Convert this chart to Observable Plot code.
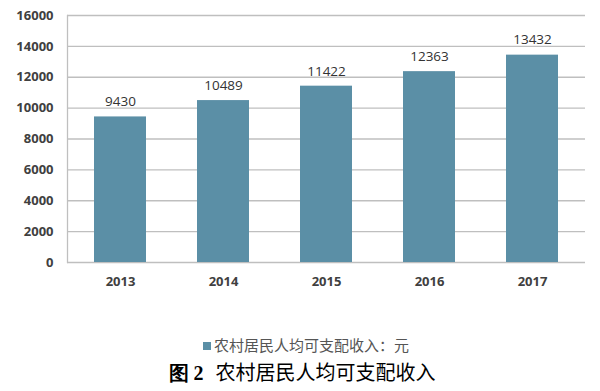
<!DOCTYPE html>
<html><head><meta charset="utf-8">
<script src="https://cdn.jsdelivr.net/npm/d3@7"></script>
<script src="https://cdn.jsdelivr.net/npm/@observablehq/plot@0.6"></script>
<style>
body{margin:0;background:#fff;width:600px;font-family:"Open Sans","Noto Sans CJK SC",sans-serif;}
#legend{height:24px;margin-top:33px;text-align:center;font-size:15px;color:#555;line-height:24px;font-family:"Noto Sans CJK SC",sans-serif;padding-left:12px}
#legend span.sw{display:inline-block;width:8px;height:8px;background:#5b8fa6;margin-right:3px;vertical-align:1px}
#caption{height:30px;text-align:center;font-size:20px;line-height:30px;color:#000;font-family:"Noto Sans CJK SC",sans-serif;padding-left:4px}
#caption b{font-family:"Liberation Serif",serif;font-weight:bold;margin-right:12px}
</style></head><body>
<div id="chart"></div>
<div id="legend"><span class="sw"></span>农村居民人均可支配收入：元</div>
<div id="caption"><b>图 2</b>农村居民人均可支配收入</div>
<script>
const years = ["2013","2014","2015","2016","2017"];
const income = [9430,10489,11422,12363,13432];
const yTicks = [0,2000,4000,6000,8000,10000,12000,14000,16000];
const data = years.map((y,i)=>({year:y, value:income[i]}));
const chart = Plot.plot({
  width:600, height:300,
  marginTop:15, marginBottom:38, marginLeft:67, marginRight:15,
  style:{fontFamily:"'Open Sans',sans-serif", fontSize:"13px", color:"#404040", background:"#fff"},
  x:{domain:years, paddingInner:0.5, paddingOuter:0.25, label:null, tickSize:0, tickPadding:14},
  y:{domain:[0,16000], ticks:yTicks, label:null, tickSize:0, tickPadding:14},
  marks:[
    Plot.gridY(yTicks,{stroke:"#bfbfbf", strokeOpacity:1, strokeWidth:1.3}),
    Plot.frame({anchor:"left", stroke:"#bfbfbf", strokeWidth:1.3}),
    Plot.barY(data,{x:"year", y:"value", fill:"#5b8fa6"}),
    Plot.text(data,{x:"year", y:"value", text:d=>String(d.value), dy:-15, fill:"#333", fontSize:13.5}),
    Plot.axisX({tickSize:0, tickPadding:14, fontWeight:"bold", fill:"#404040"}),
    Plot.axisY({ticks:yTicks, tickSize:0, tickPadding:14, fontWeight:"bold", fill:"#404040", tickFormat:d=>String(d)})
  ]
});
document.getElementById("chart").append(chart);
</script>
</body></html>
